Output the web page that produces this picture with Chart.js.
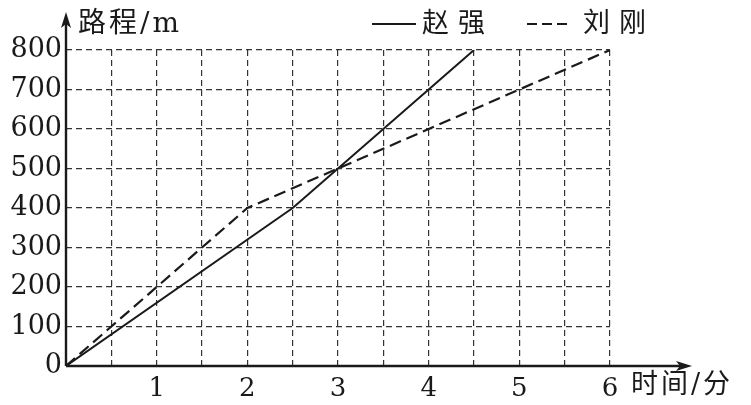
<!DOCTYPE html>
<html><head><meta charset="utf-8">
<script src="https://cdn.jsdelivr.net/npm/chart.js@4/dist/chart.umd.min.js"></script>
<style>html,body{margin:0;padding:0;background:#fff}</style>
</head><body>
<canvas id="c" width="751" height="405"></canvas>
<script>
const seriesNames = ['赵强', '刘刚'];
const zhaoTime = [0, 2.5, 4.5];
const zhaoDist = [0, 400, 800];
const liuTime = [0, 2, 3, 6];
const liuDist = [0, 400, 500, 800];
const xTickLabels = ['1', '2', '3', '4', '5', '6'];
const yTickLabels = ['0', '100', '200', '300', '400', '500', '600', '700', '800'];
const yTitle = '路程/m';
const xTitle = '时间/分';

const INK = '#1a1a1a';
const SERIF = '"DejaVu Serif", "Noto Sans CJK SC", serif';

function spacedText(ctx, text, x, y, spacing) {
  let cx = x;
  for (const ch of text) {
    ctx.fillText(ch, cx, y);
    cx += ctx.measureText(ch).width + spacing;
  }
}

const axesPlugin = {
  id: 'axesArrows',
  afterDatasetsDraw(chart) {
    const ctx = chart.ctx;
    const xs = chart.scales.x, ys = chart.scales.y;
    const x0 = xs.getPixelForValue(0), y0 = ys.getPixelForValue(0);
    const xEnd = xs.getPixelForValue(6) + 82;
    const yEnd = ys.getPixelForValue(800) - 38;
    ctx.save();
    ctx.strokeStyle = INK; ctx.fillStyle = INK; ctx.lineWidth = 2.4;
    ctx.setLineDash([]);
    ctx.beginPath();
    ctx.moveTo(x0, y0); ctx.lineTo(xEnd - 6, y0);
    ctx.moveTo(x0, y0); ctx.lineTo(x0, yEnd + 6);
    ctx.stroke();
    ctx.beginPath();
    ctx.moveTo(xEnd, y0); ctx.lineTo(xEnd - 16, y0 - 5); ctx.lineTo(xEnd - 12, y0); ctx.lineTo(xEnd - 16, y0 + 5); ctx.closePath();
    ctx.fill();
    ctx.beginPath();
    ctx.moveTo(x0, yEnd); ctx.lineTo(x0 - 5, yEnd + 16); ctx.lineTo(x0, yEnd + 12); ctx.lineTo(x0 + 5, yEnd + 16); ctx.closePath();
    ctx.fill();
    ctx.textBaseline = 'middle';
    ctx.textAlign = 'left';
    ctx.font = '28px ' + SERIF;
    spacedText(ctx, yTitle, x0 + 12, yEnd + 13, 3);
    ctx.font = '27px ' + SERIF;
    spacedText(ctx, xTitle, xs.getPixelForValue(6) + 21, y0 + 20, 3);
    const ly = 24;
    ctx.font = '27px ' + SERIF;
    const items = [
      {x: 372, len: 44, dash: [], label: seriesNames[0], gap: 6},
      {x: 527, len: 42, dash: [10, 5], label: seriesNames[1], gap: 14}
    ];
    items.forEach((it) => {
      ctx.lineWidth = 2;
      ctx.setLineDash(it.dash);
      ctx.beginPath(); ctx.moveTo(it.x, ly); ctx.lineTo(it.x + it.len, ly); ctx.stroke();
      ctx.setLineDash([]);
      spacedText(ctx, it.label, it.x + it.len + it.gap, ly + 1, 9);
    });
    ctx.restore();
  }
};

new Chart(document.getElementById('c'), {
  type: 'scatter',
  data: {
    datasets: [
      {
        label: seriesNames[0],
        data: zhaoTime.map((t, i) => ({x: t, y: zhaoDist[i]})),
        showLine: true, borderColor: INK, borderWidth: 2, pointRadius: 0, fill: false, tension: 0
      },
      {
        label: seriesNames[1],
        data: liuTime.map((t, i) => ({x: t, y: liuDist[i]})),
        showLine: true, borderColor: INK, borderWidth: 2.2, borderDash: [12, 6], pointRadius: 0, fill: false, tension: 0
      }
    ]
  },
  options: {
    responsive: false,
    animation: false,
    devicePixelRatio: 1,
    layout: {padding: {top: 50, right: 141, left: 0, bottom: 0}},
    plugins: {legend: {display: false}, tooltip: {enabled: false}},
    scales: {
      x: {
        type: 'linear', min: 0, max: 6,
        afterFit(s) { s.height = 39; },
        ticks: {
          stepSize: 0.5, autoSkip: false, maxRotation: 0, padding: 8,
          color: INK, font: {family: SERIF, size: 26},
          callback: (v) => (Number.isInteger(v) && v > 0) ? xTickLabels[v - 1] : ''
        },
        grid: {color: '#333', lineWidth: 1.2, drawTicks: false},
        border: {display: false, dash: [6, 4]}
      },
      y: {
        type: 'linear', min: 0, max: 800,
        afterFit(s) { s.width = 66; },
        ticks: {
          stepSize: 100, padding: 4,
          color: INK, font: {family: SERIF, size: 27},
          callback: (v) => yTickLabels[Math.round(v / 100)]
        },
        grid: {color: '#333', lineWidth: 1.2, drawTicks: false},
        border: {display: false, dash: [6, 4]}
      }
    }
  },
  plugins: [axesPlugin]
});
</script>
</body></html>
